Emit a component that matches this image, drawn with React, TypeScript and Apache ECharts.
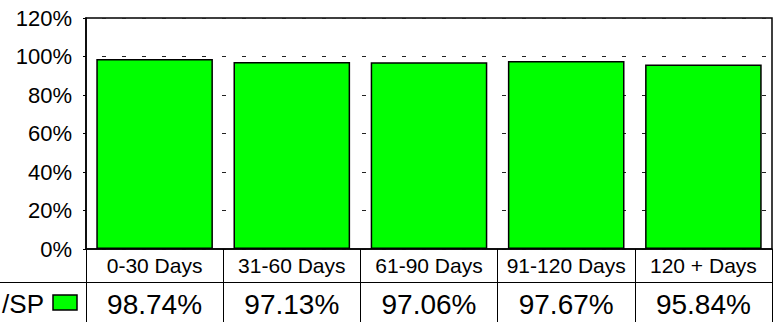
import React, { useEffect, useRef } from "react";
import * as echarts from "echarts";

const categories = ["0-30 Days", "31-60 Days", "61-90 Days", "91-120 Days", "120 + Days"];
const values = [98.74, 97.13, 97.06, 97.67, 95.84];
const valueLabels = ["98.74%", "97.13%", "97.06%", "97.67%", "95.84%"];
const seriesName = "/SP";
const yTicks = { min: 0, max: 120, interval: 20 };

const FONT = "'Liberation Sans', Arial, sans-serif";

export default function App() {
  const ref = useRef<HTMLDivElement>(null);
  useEffect(() => {
    if (!ref.current) return;
    const chart = echarts.init(ref.current, null, { renderer: "svg" });
    chart.setOption({
      animation: false,
      grid: {
        left: 86,
        right: 2,
        top: 18,
        bottom: 73,
        show: true,
        borderColor: "#000",
        borderWidth: 1.5,
        backgroundColor: "transparent",
      },
      xAxis: [
        {
          type: "category",
          data: categories,
          position: "bottom",
          boundaryGap: true,
          axisLine: { show: true, lineStyle: { color: "#000", width: 1.5 } },
          axisTick: { show: true, inside: false, length: 73, interval: 0, lineStyle: { color: "#000", width: 1 } },
          axisLabel: { interval: 0, margin: 6, color: "#000", fontSize: 21, fontFamily: FONT },
          splitLine: { show: false },
        },
        {
          type: "category",
          data: valueLabels,
          position: "bottom",
          boundaryGap: true,
          axisLine: { show: false },
          axisTick: { show: false },
          axisLabel: { interval: 0, margin: 41, color: "#000", fontSize: 28, fontFamily: FONT },
          splitLine: { show: false },
        },
      ],
      yAxis: {
        type: "value",
        min: yTicks.min,
        max: yTicks.max,
        interval: yTicks.interval,
        axisLine: { show: true, lineStyle: { color: "#000", width: 1.5 } },
        axisTick: { show: true, inside: false, length: 3, lineStyle: { color: "#000", width: 1 } },
        axisLabel: {
          formatter: "{value}%",
          margin: 14,
          color: "#000",
          fontSize: 22,
          fontFamily: FONT,
          padding: [6, 0, 0, 0],
        },
        splitLine: { show: true, lineStyle: { color: "#222", type: [4, 16], dashOffset: -16, width: 1 } },
      },
      series: [
        {
          name: seriesName,
          type: "bar",
          data: values,
          xAxisIndex: 0,
          barCategoryGap: "15%",
          itemStyle: { color: "#00ff00", borderColor: "#000", borderWidth: 1.5 },
        },
      ],
      graphic: [
        { type: "line", shape: { x1: 0, y1: 282.5, x2: 772, y2: 282.5 }, style: { stroke: "#000", lineWidth: 1 } },
        {
          type: "text",
          x: 44,
          y: 304,
          style: { text: seriesName, fill: "#000", font: `26px ${FONT}`, textAlign: "right", textVerticalAlign: "middle" },
        },
        { type: "rect", shape: { x: 53, y: 295, width: 24, height: 15 }, style: { fill: "#00ff00", stroke: "#000", lineWidth: 1.5 } },
      ],
    });
    return () => chart.dispose();
  }, []);
  return <div ref={ref} style={{ width: 774, height: 322, position: "absolute", left: 0, top: 0 }} />;
}
